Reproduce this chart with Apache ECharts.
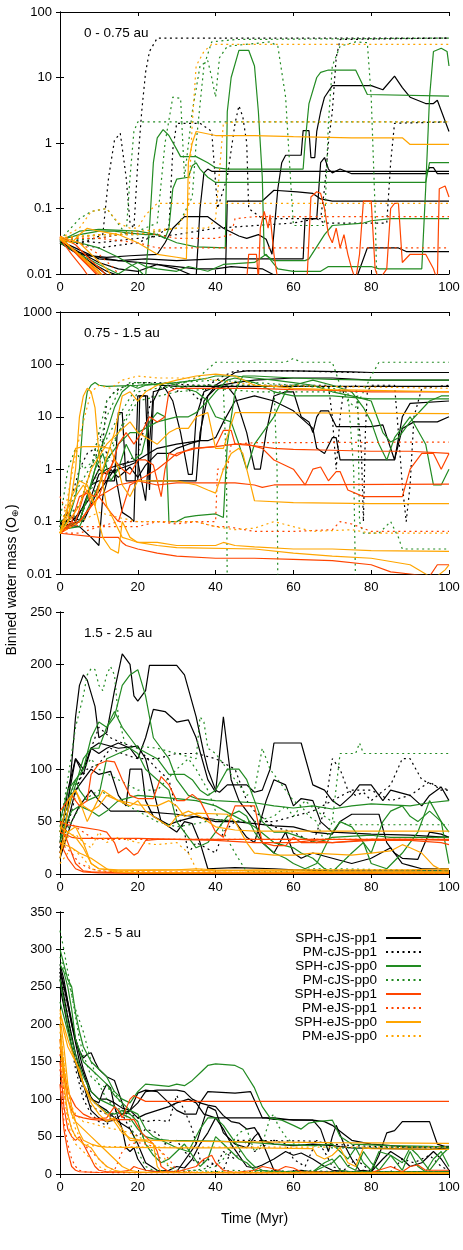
<!DOCTYPE html>
<html><head><meta charset="utf-8">
<script src="https://cdn.jsdelivr.net/npm/echarts@6/dist/echarts.min.js"></script>
<style>html,body{margin:0;padding:0;background:#fff}#c{width:463px;height:1250px}</style>
</head><body><div id="c"></div><script>
const xTicks = [0, 20, 40, 60, 80, 100];
const panelLabels = ['0 - 0.75 au', '0.75 - 1.5 au', '1.5 - 2.5 au', '2.5 - 5 au'];
const seriesNames = ['SPH-cJS-pp1','PM-cJS-pp1','SPH-cJS-pp0','PM-cJS-pp0','SPH-eJS-pp1','PM-eJS-pp1','SPH-eJS-pp0','PM-eJS-pp0'];
const seriesColors = ['#000000','#000000','#228b22','#228b22','#ff4500','#ff4500','#ffa500','#ffa500'];
const seriesDotted = [false,true,false,true,false,true,false,true];

// ---------- Panel 1: 0 - 0.75 au (log) ----------
const p1_sph_cjs_pp1 = [
 [[0,0.033],[4,0.022],[8,0.019],[12,0.018],[18,0.019],[25,0.02],[27,0.03],[29,0.05],[32,0.075],[38,0.075],[42,0.05],[46,0.038],[48,0.035],[51,0.04],[53,0.034],[54.5,0.02],[56,0.2],[57,0.5],[58,0.65],[62,0.65],[62.5,1.55],[64,1.55],[64.5,0.6],[65.5,0.6],[66,1.5],[67,3],[68,5],[70,7.5],[80,7.5],[83,6.5],[86,10.5],[88,7],[90,5],[94,4],[96,4],[97,4.5],[100,1.5]],
 [[0,0.032],[5,0.02],[10,0.018],[15,0.016],[22,0.017],[30,0.016],[40,0.017],[50,0.017],[62.5,0.017],[63,0.07],[66,0.07],[67,0.5],[68,0.6],[69,0.4],[70,0.35],[72,0.4],[75,0.34],[94,0.34],[95,0.42],[96,0.42],[97,0.34],[100,0.34]],
 [[0,0.031],[6,0.02],[10,0.015],[15,0.012],[20,0.011],[25,0.014],[30,0.012],[35,0.009],[36,0.1],[37,0.35],[38,0.4],[39,0.37],[100,0.37]],
 [[0,0.03],[8,0.015],[12,0.011],[16,0.009],[30,0.008],[42.5,0.008],[43,0.13],[52,0.13],[55,0.19],[61,0.18],[65,0.17],[67,0.14],[70,0.13],[100,0.13]],
 [[0,0.03],[6,0.018],[10,0.012],[14,0.008],[76,0.008],[79,0.025],[87,0.025],[89,0.022],[100,0.022]],
 [[0,0.032],[10,0.017],[20,0.015],[30,0.013],[35,0.012],[40,0.012],[44,0.013],[52,0.012],[56,0.009]]
];
const p1_pm_cjs_pp1 = [
 [[0,0.033],[6,0.03],[11,0.04],[12.5,0.3],[14,1.1],[15.5,1.4],[17,0.3],[18,0.06],[19,0.05],[20,0.5],[21,3],[22,12],[23,25],[25,40],[100,40]],
 [[0,0.033],[10,0.025],[20,0.03],[25,0.04],[28,0.05],[29,0.8],[30,2],[36,2],[39,1.5],[40.5,0.1],[43,0.3],[45,2],[46,3.7],[47,2.5],[48,1],[48.5,0.1],[52,0.07],[62,0.07],[67,0.07],[68,0.2],[69,1],[70,3],[71,20],[72,38],[100,40]],
 [[0,0.034],[10,0.03],[20,0.035],[30,0.04],[40,0.05],[60,0.06],[66,0.07],[68,0.06],[84,0.06],[85,0.5],[86,2],[100,2.1]]
];
const p1_sph_cjs_pp0 = [
 [[0,0.032],[5,0.03],[10,0.025],[15,0.018],[20,0.012],[22,0.009],[23,0.05],[24,0.5],[25,1.2],[26.5,1.6],[28,1.3],[30,0.8],[31,0.62],[35,0.62],[38,0.5],[40,0.42],[43,0.4],[62.5,0.4],[63,1],[64,4],[66,10],[67,12],[69,13],[76,13],[79,5.5],[100,5.2]],
 [[0,0.033],[5,0.04],[10,0.045],[14,0.045],[18,0.042],[22,0.04],[25,0.04],[27,0.035],[28,0.05],[29,0.2],[30,0.28],[33,0.3],[34,0.45],[35,0.5],[36,0.4],[38,0.3],[40,0.25],[94,0.25],[95,0.5],[97,0.5],[100,0.5]],
 [[0,0.032],[5,0.045],[10,0.048],[20,0.045],[25,0.04],[30,0.03],[35,0.026],[42.5,0.025],[43,3],[44,10],[46,26],[48.5,26],[50,15],[51,3],[52,0.3],[52.5,0.02],[55,0.016],[63,0.016],[64,0.017],[68,0.04],[70,0.055],[78,0.06],[80,0.065],[85,0.07],[100,0.07]],
 [[0,0.03],[5,0.02],[10,0.014],[15,0.01],[18,0.013],[20,0.015],[22,0.013],[25,0.012],[30,0.011],[33,0.013],[38,0.011],[42,0.014],[50,0.015],[53,0.02],[56,0.012],[60,0.011],[67,0.011],[69,0.013],[80,0.013],[82,0.012],[93,0.012],[94,0.2],[95,5],[96,25],[98,28],[99.5,25],[100,15]]
];
const p1_pm_cjs_pp0 = [
 [[0,0.033],[5,0.07],[8,0.09],[12,0.1],[14,0.07],[17,0.04],[18,0.3],[19,1.5],[20,2.1],[100,2.1]],
 [[0,0.032],[10,0.035],[20,0.045],[25,0.06],[27,1],[29,5],[31,4.8],[32,0.3],[34,3],[36,15],[38,18],[39,10],[40,5],[41,20],[43,30],[50,33],[54,35],[56,30],[58,5],[59,0.5],[60,0.055],[68,0.055],[69,2],[70,15],[72,30],[76,35],[79,34],[80,5],[81,0.1],[81.5,0.005]],
 [[0,0.034],[10,0.04],[20,0.04],[30,0.05],[34,0.15],[35,1],[37,15],[39,35],[45,38],[100,40]]
];
const p1_sph_ejs_pp1 = [
 [[0,0.035],[3,0.02],[6,0.012],[8,0.008],[48,0.008],[48.5,0.02],[50.5,0.02],[51,0.008],[51.5,0.05],[52.5,0.09],[53.5,0.05],[54,0.08],[55,0.02],[56,0.008],[63.5,0.008],[64.5,0.15],[66,0.18],[67,0.17],[68,0.1],[69,0.04],[70,0.03],[71,0.05],[72,0.025],[73,0.04],[74,0.02],[75,0.012],[76,0.008],[77,0.02],[78,0.13],[80,0.13],[81,0.012],[82,0.008],[84,0.012],[85,0.1],[86,0.12],[87,0.12],[88,0.015],[90,0.02],[94,0.02],[96,0.012],[97,0.008],[97.5,0.2],[99,0.22],[100,0.15]],
 [[0,0.037],[3,0.025],[6,0.016],[9,0.011],[11,0.008]],
 [[0,0.036],[4,0.022],[7,0.015],[10,0.011],[12,0.008]],
 [[0,0.034],[2,0.028],[5,0.018],[8,0.012],[10,0.009]],
 [[0,0.038],[4,0.028],[8,0.016],[11,0.011],[13,0.008]]
];
const p1_pm_ejs_pp1 = [
 [[0,0.036],[5,0.035],[10,0.035],[15,0.04],[20,0.042],[25,0.04],[30,0.035],[40,0.035],[44,0.04],[45,0.07],[50,0.075],[60,0.075],[100,0.075]],
 [[0,0.035],[10,0.035],[20,0.03],[25,0.025],[100,0.025]],
 [[0,0.037],[5,0.03],[10,0.02],[14,0.012],[16,0.008]]
];
const p1_sph_ejs_pp0 = [
 [[0,0.035],[3,0.03],[5,0.04],[7,0.05],[10,0.045],[15,0.04],[20,0.03],[25,0.02],[30,0.018],[32.5,0.017],[33,0.5],[34,1],[35,1.5],[40,1.3],[50,1.3],[60,1.25],[75,1.2],[88,1.2],[90,0.95],[100,0.95]],
 [[0,0.036],[4,0.022],[8,0.013],[11,0.009]],
 [[0,0.034],[3,0.025],[7,0.016],[10,0.011],[12,0.008]],
 [[0,0.037],[5,0.03],[8,0.02],[12,0.012],[14,0.008]]
];
const p1_pm_ejs_pp0 = [
 [[0,0.035],[5,0.05],[8,0.09],[12,0.1],[15,0.06],[18,0.05],[20,0.05],[22,0.08],[25,0.12],[100,0.12]],
 [[0,0.036],[10,0.04],[20,0.04],[30,0.05],[33,0.1],[34,2],[35,15],[37,25],[39,32],[100,32]],
 [[0,0.034],[20,0.045],[30,0.05],[38,0.05],[40,0.07],[42,2],[45,2.1],[100,2.1]]
];

// ---------- Panel 2: 0.75 - 1.5 au (log) ----------
const p2_sph_cjs_pp1 = [
 [[0,0.08],[2,0.15],[4,0.1],[6,0.2],[8,0.5],[10,0.6],[14,0.6],[15,12],[16,12],[17,0.6],[20,0.6],[20.5,25],[22.5,25],[23,0.6],[30,0.6],[35,0.6],[36,5],[38,25],[40,35],[43,38],[50,38],[100,38]],
 [[0,0.1],[3,0.1],[5,0.15],[8,0.3],[10,0.8],[12,1],[15,1.2],[20,1.5],[25,2.5],[30,3],[36,3.5],[37,20],[40,40],[45,70],[48,75],[60,75],[75,72],[80,70],[100,70]],
 [[0,0.08],[5,0.1],[8,0.5],[10,1],[12,0.8],[15,1],[18,1.2],[20,1.4],[22,0.25],[23,3],[24,30],[27,35],[29,20],[31,5],[33,0.8],[34,0.8],[35,10],[37,30],[40,38],[43,38],[45,25],[48,5],[50,1],[51.5,1],[53,5],[55,25],[58,30],[60,30],[62,10],[64,8],[65,5],[66,10],[67,13],[69,13],[71,6.5],[80,6.5],[83,7],[86,1.5],[88,6],[91,8],[97,8],[100,10]],
 [[0,0.09],[5,0.08],[8,0.05],[10,0.035],[11,0.3],[13,1],[15,0.7],[18,1.1],[20,0.7],[22,1.2],[25,2],[28,2],[30,2.5],[33,3],[36,3.5],[38,3.5],[40,4],[42,8],[45,20],[50,25],[55,20],[60,13],[65,6],[66,2.5],[68,2],[70,4],[71,4],[72,1.5],[86,1.5],[88,10],[90,18],[100,20]],
 [[0,0.09],[3,0.12],[6,0.1],[9,0.3],[12,0.6],[14,1],[16,0.15],[18,0.12],[19,0.1],[20,25],[22,25],[23,0.4],[24,20],[26,40],[30,38],[40,38],[45,45],[50,50],[60,55],[70,55],[80,50],[100,50]]
];
const p2_pm_cjs_pp1 = [
 [[0,0.08],[3,0.3],[5,1],[7,2],[9,2.5],[10,1],[11,3],[12,20],[14,30],[17,40],[20,45],[25,45],[30,42],[35,40],[50,40],[69,40],[70,10],[71,1],[72,10],[73,35],[76,40],[77.5,2],[78,0.1],[78.5,5],[79,30],[80,40],[86,40],[87,5],[88,0.5],[89,0.1],[90,0.5],[91,10],[93,35],[100,40]],
 [[0,0.1],[5,0.2],[8,1],[10,5],[12,2],[15,1],[20,2],[24,30],[28,40],[30,30],[32,40],[36,20],[38,40],[42,60],[45,75],[60,75],[70,72],[75,70],[100,70]]
];
const p2_sph_cjs_pp0 = [
 [[0,0.07],[2,0.1],[4,0.3],[5,1],[6,10],[7,30],[8,40],[9,45],[10,40],[12,38],[20,40],[25,42],[30,45],[35,50],[38,55],[40,60],[45,60],[50,55],[55,50],[60,45],[65,40],[70,30],[75,25],[80,20],[83,5],[85,3.3],[87,4],[90,8],[95,20],[98,25],[100,25]],
 [[0,0.07],[3,0.08],[5,0.1],[7,0.3],[9,1],[11,2],[13,0.6],[15,1],[17,3],[19,1.5],[21,2],[23,8],[25,12],[27,10],[28,0.1],[30,0.1],[32,0.12],[35,0.13],[40,0.14],[42,0.12],[43,3],[45,30],[47,60],[50,60],[60,55],[70,52],[80,50],[100,50]],
 [[0,0.07],[5,0.1],[8,0.5],[10,2],[12,5],[14,15],[16,30],[18,40],[20,35],[22,40],[25,42],[28,45],[32,35],[35,30],[38,20],[40,10],[44,8],[46,3],[48,1],[50,3],[55,10],[58,30],[60,40],[65,50],[70,40],[75,30],[78,15],[80,8],[82,3],[84,1.5],[86,4],[90,10],[94,3],[96,0.5],[98,0.5],[100,1]],
 [[0,0.07],[5,0.08],[10,0.5],[12,1.5],[15,3],[18,5],[20,5],[25,8],[30,10],[33,10],[35,12],[38,20],[40,30],[43,50],[45,55],[50,45],[55,30],[60,25],[70,25],[80,22],[100,22]]
];
const p2_pm_cjs_pp0 = [
 [[0,0.1],[2,1],[4,2.5],[6,1],[9,1.5],[12,10],[15,30],[18,45],[22,45],[28,40],[32,45],[36,60],[40,110],[50,110],[58,110],[60,130],[62,110],[70,110],[72,40],[74,20],[76,15],[78,30],[80,60],[82,110],[100,110]],
 [[0,0.1],[5,0.2],[8,1],[10,5],[12,20],[15,35],[20,45],[25,40],[30,35],[35,40],[40,40],[42,35],[42.8,1],[43,0.005]],
 [[0,0.08],[5,0.15],[10,0.5],[15,5],[20,30],[25,35],[30,38],[40,40],[55,40],[55.8,1],[56,0.005]],
 [[0,0.08],[5,0.5],[10,2],[15,10],[20,40],[30,45],[40,50],[50,45],[60,40],[70,35],[74,30],[75.5,1],[76,0.005]],
 [[0,0.08],[5,0.1],[10,1],[15,5],[20,20],[30,30],[40,35],[50,30],[70,30],[76.5,30],[77,0.1],[78,0.06],[82,0.06],[85,0.1],[87,0.05],[88,0.03],[100,0.03]]
];
const p2_sph_ejs_pp1 = [
 [[0,0.06],[2,0.08],[4,0.1],[6,0.3],[7,0.4],[8,0.2],[10,0.3],[12,0.8],[14,1.5],[16,1],[18,0.8],[20,1.5],[22,1.5],[24,1.2],[26,0.3],[27,1],[28,2],[30,1.8],[32,2.2],[34,2.5],[40,2.7],[45,3],[50,2.8],[55,2.5],[60,2.4],[70,2.3],[80,2.2],[90,2.2],[100,2]],
 [[0,0.06],[3,0.1],[5,0.3],[7,0.35],[9,0.3],[11,0.8],[13,1],[15,3],[17,5],[19,3],[21,5],[23,10],[25,8],[27,10],[28,30],[30,35],[50,35],[60,33],[70,32],[80,30],[100,30]],
 [[0,0.06],[5,0.1],[8,0.2],[10,0.3],[13,0.15],[15,0.1],[18,0.5],[20,0.6],[25,0.5],[30,0.55],[45,0.55],[50,0.5],[52,0.45],[55,0.5],[100,0.52]],
 [[0,0.06],[10,0.05],[15,0.05],[16,0.04],[17,0.035],[20,0.03],[25,0.025],[30,0.022],[40,0.02],[50,0.02],[60,0.019],[70,0.018],[80,0.015],[85,0.011],[90,0.01],[95,0.009],[97,0.015],[100,0.015]],
 [[0,0.06],[5,0.1],[10,0.3],[15,0.5],[20,0.6],[25,1],[28,1.5],[30,2],[35,2.5],[40,2.7],[42,5.5],[44,5.5],[45,3],[48,3],[52,2.5],[55,1.5],[60,1],[63,0.5],[65,1],[67,1.1],[69,0.6],[71,0.9],[72,0.9],[74,0.4],[78,0.3],[88,0.3],[90,1],[93,2],[96,2],[98,1],[100,2]]
];
const p2_pm_ejs_pp1 = [
 [[0,0.3],[1,0.2],[3,0.1],[5,0.08],[10,0.08],[15,0.1],[40,0.1],[40.5,1],[43,1],[44,3],[50,3.2],[100,3.3]],
 [[0,0.06],[5,0.06],[10,0.08],[20,0.08],[25,0.1],[30,0.09],[35,0.1],[40,0.08],[43,0.08],[50,0.065],[60,0.065],[70,0.07],[72,0.1],[75,0.09],[80,0.065],[100,0.065]]
];
const p2_sph_ejs_pp0 = [
 [[0,0.06],[2,0.1],[4,1],[5,10],[6,25],[7,35],[8,30],[9,15],[10,2],[11,0.5],[12,0.2],[14,0.1],[16,0.05],[18,0.045],[20,0.04],[25,0.04],[30,0.035],[40,0.035],[42,0.04],[45,0.035],[50,0.033],[60,0.03],[70,0.03],[80,0.028],[100,0.027]],
 [[0,0.06],[2,0.2],[3,1],[4,2.5],[6,2.7],[10,2.7],[13,2.5],[15,1],[16,0.5],[18,0.3],[20,0.6],[30,0.6],[35,0.5],[38,0.4],[40,0.35],[42,1],[44,2],[46,2.5],[47,2],[48,1],[49,0.5],[50,0.25],[60,0.23],[80,0.22],[100,0.22]],
 [[0,0.06],[3,0.3],[5,0.6],[7,0.5],[9,0.2],[11,0.05],[13,0.03],[15,0.025],[16,0.1],[18,0.05],[20,0.04],[25,0.035],[30,0.032],[50,0.03],[60,0.025],[70,0.022],[80,0.02],[90,0.015],[94,0.01],[96,0.008],[99,0.012],[100,0.015]],
 [[0,0.06],[4,0.3],[6,0.5],[9,0.2],[11,1],[14,5],[16,25],[18,30],[20,20],[22,30],[25,40],[30,50],[35,60],[40,65],[45,60],[50,40],[55,38],[60,35],[70,33],[80,32],[100,30]],
 [[0,0.06],[5,0.2],[8,1],[12,3],[15,5],[18,8],[20,5],[25,3],[28,5],[30,6],[33,6],[35,10],[38,12],[40,2.5],[42,2.5],[45,12],[50,12],[100,11.5]]
];
const p2_pm_ejs_pp0 = [
 [[0,0.06],[2,0.3],[4,2],[6,8],[8,30],[10,40],[13,35],[16,50],[20,60],[25,55],[35,55],[40,50],[50,40],[100,35]],
 [[0,0.06],[5,0.1],[10,0.15],[15,0.12],[20,0.1],[35,0.1],[40,0.08],[45,0.07],[50,0.075],[55,0.1],[60,0.08],[65,0.065],[75,0.07],[80,0.06],[100,0.06]]
];

// ---------- Panel 3: 1.5 - 2.5 au (linear) ----------
const p3_sph_cjs_pp1 = [
 [[0,20],[2,60],[4,150],[5,180],[6,190],[7,185],[9,160],[10,130],[12,135],[14,175],[16,210],[17,205],[18,200],[19,170],[20,165],[22,175],[23,199],[30,199],[32,190],[35,150],[37,115],[38,100],[40,80],[41,78],[43,85],[48,85],[50,78],[52,80],[54,100],[55,125],[62,125],[65,85],[68,80],[70,70],[72,65],[75,75],[77,85],[80,85],[83,70],[85,80],[90,75],[93,65],[95,75],[98,83],[100,70]],
 [[0,30],[2,80],[4,110],[6,100],[8,120],[10,115],[12,120],[15,125],[18,120],[20,110],[22,130],[24,157],[27,155],[30,145],[33,147],[35,130],[38,90],[40,78],[42,150],[44,90],[46,70],[50,50],[52,30],[55,20],[58,40],[60,20],[62,15],[65,20],[70,15],[75,10],[80,15],[85,25],[88,10],[90,8],[93,5],[100,5]],
 [[0,40],[2,70],[4,110],[6,95],[8,120],[10,125],[15,120],[20,122],[22,110],[24,80],[26,50],[28,45],[30,40],[32,50],[34,48],[36,30],[38,5],[45,6],[55,5],[60,4],[70,3],[100,3]],
 [[0,25],[2,50],[4,80],[6,90],[8,100],[10,95],[13,98],[15,75],[17,65],[18,100],[21,100],[22,70],[24,55],[28,47],[30,50],[35,55],[40,50],[45,50],[50,48],[55,46],[60,45],[65,40],[70,38],[72,50],[75,57],[82,57],[84,30],[86,20],[88,15],[92,14],[95,40],[98,38],[100,35]],
 [[0,15],[3,50],[5,65],[8,80],[10,70],[13,60],[20,60],[30,57],[40,52],[45,50],[48,35],[50,30],[53,70],[55,90],[58,85],[60,65],[62,72],[65,70],[67,50],[70,40],[80,38],[90,37],[100,35]]
];
const p3_pm_cjs_pp1 = [
 [[0,20],[3,60],[5,90],[7,100],[10,105],[13,120],[16,115],[20,110],[25,110],[30,115],[35,115],[40,110],[45,100],[48,70],[50,60],[55,45],[60,40],[65,30],[68,60],[70,110],[72,100],[74,80],[76,75],[78,78],[80,70],[85,85],[88,110],[90,110],[93,90],[96,85],[100,80]],
 [[0,25],[2,70],[5,90],[8,120],[10,140],[13,130],[16,125],[20,120],[25,100],[28,90],[30,60],[32,40],[33,20],[35,30],[40,20],[42,40],[45,50],[55,50],[60,55],[65,60],[70,70],[75,80],[80,80],[85,70],[90,75],[95,88],[98,80],[100,80]]
];
const p3_sph_cjs_pp0 = [
 [[0,40],[2,70],[4,90],[6,100],[8,130],[10,145],[12,140],[14,150],[16,180],[18,190],[20,195],[22,170],[24,130],[26,120],[28,110],[30,90],[33,75],[35,72],[40,70],[50,68],[55,65],[60,63],[65,65],[70,62],[75,65],[80,67],[90,65],[95,68],[100,70]],
 [[0,30],[2,60],[4,85],[6,110],[8,120],[10,120],[12,140],[14,155],[16,140],[18,130],[20,120],[25,110],[28,95],[32,95],[34,90],[36,80],[38,75],[40,80],[43,100],[46,100],[48,90],[50,70],[52,50],[55,40],[58,40],[62,35],[66,30],[70,35],[80,37],[85,35],[100,35]],
 [[0,50],[2,80],[4,90],[5,80],[7,70],[10,75],[12,110],[15,115],[18,120],[20,115],[22,100],[25,90],[28,80],[30,50],[32,40],[35,25],[38,30],[40,40],[43,55],[46,60],[48,55],[50,40],[52,30],[55,20],[58,15],[60,10],[63,5],[66,10],[70,40],[72,50],[75,45],[78,30],[80,20],[83,50],[85,60],[88,65],[90,55],[92,50],[95,60],[98,50],[100,40]],
 [[0,35],[3,60],[5,65],[8,60],[10,55],[12,60],[15,70],[20,75],[30,72],[35,70],[40,65],[45,55],[50,45],[55,30],[60,25],[62,20],[65,15],[68,5],[70,2],[75,20],[78,30],[80,10],[84,5],[88,20],[92,40],[95,70],[98,50],[100,10]]
];
const p3_pm_cjs_pp0 = [
 [[0,45],[2,90],[4,140],[6,170],[7,190],[8,196],[9,195],[10,180],[11,175],[12,190],[13,198],[14,190],[15,150],[17,120],[20,122],[25,120],[30,115],[35,110],[36,150],[37,145],[38,120],[40,115],[42,105],[45,90],[48,75],[50,80],[52,120],[54,100],[56,90],[58,80],[60,70],[62,65],[64,55],[66,50],[68,30],[70,50],[72,115],[76,115],[77,125],[78,115],[100,115]],
 [[0,40],[3,80],[6,100],[8,110],[10,100],[15,90],[20,80],[25,80],[30,100],[33,110],[35,100],[38,80],[40,60],[42,40],[45,20],[48,2],[55,2],[60,3],[65,5],[70,5],[100,3]],
 [[0,30],[3,50],[6,70],[10,80],[15,70],[20,60],[25,50],[30,45],[35,48],[40,52],[50,50],[55,55],[58,65],[60,55],[63,70],[66,60],[70,50],[75,47],[100,47]]
];
const p3_sph_ejs_pp1 = [
 [[0,60],[2,70],[3,75],[5,65],[7,70],[8,95],[10,105],[12,108],[14,107],[16,90],[18,75],[20,72],[24,72],[26,93],[28,85],[30,70],[32,70],[34,76],[36,70],[38,55],[40,40],[42,35],[45,65],[50,65],[52,30],[55,27],[58,27],[60,35],[62,30],[70,30],[80,32],[90,32],[98,30],[100,28]],
 [[0,50],[2,47],[5,45],[10,42],[12,40],[14,30],[15,20],[17,25],[19,18],[20,20],[22,32],[25,33],[90,33],[100,32]],
 [[0,40],[3,35],[5,34],[20,34],[30,33],[40,32],[50,30],[60,30],[65,32],[70,30],[80,33],[100,33]],
 [[0,30],[2,15],[4,5],[6,2],[10,1],[20,0.5],[100,0.5]],
 [[0,50],[2,30],[4,10],[6,3],[8,2],[20,1],[100,1]]
];
const p3_pm_ejs_pp1 = [
 [[0,20],[2,50],[4,45],[6,40],[8,35],[10,33],[100,33]],
 [[0,30],[3,20],[5,10],[8,5],[10,3],[15,2],[100,1]]
];
const p3_sph_ejs_pp0 = [
 [[0,15],[2,60],[3,75],[4,80],[5,70],[6,60],[7,50],[9,65],[11,80],[13,75],[15,70],[18,65],[20,70],[22,60],[24,55],[26,50],[28,45],[30,55],[33,60],[36,55],[38,50],[40,45],[45,42],[50,41],[100,41]],
 [[0,40],[2,70],[4,80],[6,65],[8,60],[10,65],[12,75],[15,70],[18,68],[20,66],[25,65],[28,70],[30,65],[32,55],[35,58],[43,57],[45,50],[48,30],[50,20],[55,18],[60,18],[65,20],[70,19],[75,18],[80,20],[85,22],[88,28],[90,25],[93,20],[96,8],[98,4],[100,4]],
 [[0,20],[2,40],[4,35],[6,25],[8,10],[10,5],[15,3],[30,4],[35,5],[40,4],[50,3],[60,3],[70,2],[100,2]],
 [[0,45],[2,40],[4,45],[6,30],[8,10],[10,5],[15,4],[30,4],[40,3],[50,4],[90,4],[100,5]],
 [[0,30],[3,25],[5,20],[8,15],[10,10],[12,5],[14,2],[20,1],[100,1]]
];
const p3_pm_ejs_pp0 = [
 [[0,20],[2,35],[4,38],[6,30],[8,25],[10,40],[12,30],[15,35],[20,30],[25,28],[30,30],[33,20],[35,5],[40,3],[100,3]],
 [[0,10],[3,25],[6,15],[8,5],[10,3],[20,2],[100,1]]
];

// ---------- Panel 4: 2.5 - 5 au (linear) ----------
const p4_sph_cjs_pp1 = [
 [[0,280],[1,260],[2,230],[3,200],[4,180],[5,165],[6,155],[7,160],[8,162],[9,150],[10,140],[12,130],[14,125],[16,95],[17,80],[18,85],[20,95],[22,110],[25,112],[30,112],[32,110],[34,100],[36,95],[38,92],[40,90],[42,78],[44,70],[46,68],[48,60],[50,62],[52,45],[55,40],[60,38],[65,40],[70,38],[75,35],[85,34],[95,33],[100,35]],
 [[0,270],[1,250],[3,200],[5,150],[7,120],[8,100],[10,95],[11,110],[12,120],[13,115],[14,90],[16,60],[17,35],[18,30],[19,35],[20,20],[22,5],[25,3],[28,5],[30,10],[32,8],[34,20],[36,40],[38,55],[40,75],[42,60],[44,40],[46,25],[48,10],[50,8],[52,12],[55,20],[58,30],[60,25],[62,28],[65,20],[68,10],[70,5],[75,3],[78,5],[80,3],[83,20],[85,30],[88,20],[90,10],[93,15],[96,30],[98,20],[100,5]],
 [[0,265],[2,210],[4,160],[6,120],[8,85],[10,75],[12,70],[14,72],[16,80],[18,85],[20,75],[22,80],[25,85],[28,90],[30,95],[33,100],[35,95],[37,80],[40,75],[53,75],[55,73],[65,72],[67,60],[69,30],[70,50],[71,65],[73,40],[75,20],[77,5],[80,3],[82,25],[84,55],[86,58],[88,70],[95,70],[97,40],[100,35]],
 [[0,275],[2,230],[4,180],[6,140],[8,110],[10,100],[12,100],[14,95],[16,88],[18,85],[20,108],[22,112],[25,110],[28,95],[30,85],[32,80],[35,80],[36,95],[38,110],[45,108],[49,110],[52,75],[55,75],[60,72],[65,72],[68,70],[70,65],[75,45],[80,40],[85,38],[90,36],[100,37]],
 [[0,250],[3,170],[5,130],[7,110],[9,95],[12,85],[15,70],[18,60],[20,40],[22,15],[25,5],[30,3],[35,40],[38,90],[40,85],[42,55],[45,40],[48,35],[50,50],[51,55],[53,30],[55,5],[58,3],[62,5],[65,3],[100,3]]
];
const p4_pm_cjs_pp1 = [
 [[0,270],[2,210],[4,150],[6,110],[8,90],[10,85],[12,80],[14,75],[16,85],[18,80],[20,75],[22,70],[25,72],[28,70],[30,105],[32,85],[34,60],[36,20],[38,10],[40,15],[42,5],[45,45],[65,44],[70,40],[75,38],[80,37],[85,36],[100,36]],
 [[0,260],[2,200],[4,140],[6,100],[8,80],[10,70],[12,65],[14,85],[16,80],[18,60],[20,50],[22,60],[25,55],[27,40],[30,45],[32,30],[35,15],[38,20],[40,10],[42,30],[45,20],[48,45],[50,30],[55,45],[58,40],[60,20],[63,10],[66,45],[68,30],[70,10],[73,5],[76,20],[80,3],[85,3],[88,20],[91,15],[95,25],[98,10],[100,5]]
];
const p4_sph_cjs_pp0 = [
 [[0,300],[1,280],[2,260],[3,250],[4,215],[5,190],[6,170],[7,160],[8,150],[10,140],[12,130],[14,110],[16,100],[18,95],[20,110],[22,120],[28,117],[30,120],[32,118],[34,125],[36,135],[38,145],[40,147],[45,145],[47,140],[50,115],[52,90],[54,75],[57,72],[60,65],[62,60],[64,68],[66,70],[70,72],[72,50],[75,40],[85,38],[95,37],[100,36]],
 [[0,280],[1,270],[2,250],[3,220],[4,180],[6,150],[8,140],[10,130],[12,120],[14,105],[16,95],[18,85],[20,80],[22,60],[24,50],[26,45],[28,40],[30,35],[33,30],[36,60],[38,75],[40,75],[42,65],[44,50],[46,35],[48,20],[50,10],[52,5],[55,3],[65,3],[70,15],[72,25],[74,10],[76,5],[78,30],[80,15],[82,5],[85,25],[88,5],[90,30],[92,10],[94,3],[96,20],[98,30],[100,10]],
 [[0,260],[2,200],[4,160],[6,130],[8,110],[10,100],[12,95],[14,90],[16,80],[18,75],[20,60],[22,50],[24,47],[28,45],[40,44],[50,42],[55,40],[65,38],[70,40],[72,30],[74,20],[76,35],[78,15],[80,5],[82,30],[85,25],[88,15],[90,35],[92,25],[95,5],[98,25],[100,35]],
 [[0,230],[2,190],[4,150],[6,120],[8,100],[10,90],[12,82],[14,80],[16,85],[18,80],[20,70],[22,40],[24,25],[26,15],[28,20],[30,30],[32,40],[34,25],[36,10],[38,20],[40,50],[42,40],[44,30],[46,20],[48,15],[50,5],[55,3],[65,3],[68,15],[70,20],[72,5],[75,3],[100,3]]
];
const p4_pm_cjs_pp0 = [
 [[0,325],[1,300],[2,270],[3,240],[4,210],[5,180],[6,160],[7,145],[8,130],[10,120],[12,115],[14,110],[16,90],[18,80],[20,70],[22,40],[24,30],[26,20],[28,10],[30,5],[35,5],[40,10],[42,20],[44,40],[46,55],[48,60],[50,30],[52,40],[54,75],[55,80],[56,65],[58,50],[60,40],[65,38],[70,35],[80,35],[90,36],[95,34],[100,33]],
 [[0,290],[2,260],[4,220],[6,190],[8,150],[10,120],[12,100],[14,90],[16,85],[18,70],[20,30],[22,10],[24,5],[30,3],[35,5],[40,3],[45,5],[50,3],[55,5],[60,3],[65,5],[70,3],[100,3]]
];
const p4_sph_ejs_pp1 = [
 [[0,170],[1,140],[2,110],[3,100],[4,90],[5,85],[6,80],[8,75],[10,74],[12,75],[14,90],[15,85],[16,75],[18,100],[19,105],[20,102],[22,97],[100,97]],
 [[0,180],[1,130],[2,100],[3,85],[4,78],[6,75],[8,73],[10,72],[19,73],[21,55],[23,45],[24,40],[25,30],[26,10],[28,3],[30,2],[45,2],[50,5],[52,10],[54,8],[56,5],[58,10],[60,8],[62,3],[70,2],[80,2],[85,10],[88,3],[90,10],[92,12],[94,5],[100,5]],
 [[0,150],[1,90],[2,60],[3,50],[4,45],[5,50],[6,40],[7,30],[8,20],[9,10],[10,5],[12,3],[15,3],[18,5],[19,10],[20,8],[22,5],[25,3],[30,3],[35,10],[37,20],[39,25],[40,15],[42,5],[45,2],[100,2]],
 [[0,120],[1,60],[2,30],[3,10],[4,5],[5,3],[10,2],[100,1]]
];
const p4_pm_ejs_pp1 = [
 [[0,160],[1,110],[2,80],[3,60],[4,50],[5,45],[6,40],[8,30],[10,20],[12,10],[14,5],[16,30],[18,40],[20,42],[22,40],[25,35],[28,20],[30,5],[35,2],[100,2]],
 [[0,140],[1,70],[2,40],[3,20],[4,10],[5,5],[6,3],[10,2],[100,1]]
];
const p4_sph_ejs_pp0 = [
 [[0,220],[1,190],[2,170],[3,160],[4,150],[5,140],[6,120],[8,100],[10,90],[12,80],[14,70],[16,55],[18,48],[20,46],[24,45],[30,44],[50,43],[70,42],[100,41]],
 [[0,210],[1,170],[2,120],[3,90],[4,70],[5,55],[6,45],[8,40],[10,37],[12,36],[30,35],[50,35],[65,34],[66,25],[68,20],[70,25],[72,35],[74,15],[76,10],[78,35],[80,34],[100,33]],
 [[0,200],[1,140],[2,100],[3,80],[4,70],[6,60],[8,50],[10,40],[12,30],[14,20],[16,10],[18,5],[20,3],[25,2],[100,1]],
 [[0,180],[1,120],[2,80],[3,60],[4,50],[5,45],[6,40],[8,35],[10,20],[12,10],[14,5],[16,3],[20,2],[100,1]],
 [[0,215],[2,180],[4,150],[6,120],[8,95],[10,80],[12,70],[14,75],[16,60],[18,45],[22,44],[24,40],[25,10],[26,3],[30,2],[100,2]]
];
const p4_pm_ejs_pp0 = [
 [[0,190],[1,150],[2,110],[3,90],[4,80],[5,75],[6,70],[8,68],[10,65],[12,62],[14,60],[16,58],[18,55],[20,50],[22,45],[24,40],[26,30],[28,10],[30,3],[100,2]],
 [[0,170],[1,110],[2,70],[3,50],[4,40],[6,30],[8,20],[10,10],[12,5],[14,3],[20,2],[100,2]],
 [[0,200],[2,100],[4,60],[6,40],[8,38],[10,37],[20,36],[100,36]]
];

const panelRuns = [
 [p1_sph_cjs_pp1,p1_pm_cjs_pp1,p1_sph_cjs_pp0,p1_pm_cjs_pp0,p1_sph_ejs_pp1,p1_pm_ejs_pp1,p1_sph_ejs_pp0,p1_pm_ejs_pp0],
 [p2_sph_cjs_pp1,p2_pm_cjs_pp1,p2_sph_cjs_pp0,p2_pm_cjs_pp0,p2_sph_ejs_pp1,p2_pm_ejs_pp1,p2_sph_ejs_pp0,p2_pm_ejs_pp0],
 [p3_sph_cjs_pp1,p3_pm_cjs_pp1,p3_sph_cjs_pp0,p3_pm_cjs_pp0,p3_sph_ejs_pp1,p3_pm_ejs_pp1,p3_sph_ejs_pp0,p3_pm_ejs_pp0],
 [p4_sph_cjs_pp1,p4_pm_cjs_pp1,p4_sph_cjs_pp0,p4_pm_cjs_pp0,p4_sph_ejs_pp1,p4_pm_ejs_pp1,p4_sph_ejs_pp0,p4_pm_ejs_pp0]
];
const yScales = [
 {type:'log', min:0.01, max:100},
 {type:'log', min:0.01, max:1000},
 {type:'value', min:0, max:250, interval:50},
 {type:'value', min:0, max:350, interval:50}
];

const FONT = "'Liberation Sans', Arial, sans-serif";
const panelTops = [12, 312, 612, 912];
const PH = 262;
const grids = [], xAxes = [], yAxesOpt = [], series = [], graphics = [];
const logFmt = v => String(+(+v).toPrecision(3));

panelTops.forEach((top, g) => {
  grids.push({left: 60, width: 389, top: top, height: PH});
  const axBase = {axisLine:{show:true,lineStyle:{color:'#000',width:1}}, axisTick:{show:true,inside:true,length:4,lineStyle:{color:'#000'}}, splitLine:{show:false}};
  xAxes.push(Object.assign({gridIndex:g, type:'value', min:0, max:100, interval:20, position:'bottom',
    axisLabel:{color:'#000', fontSize:13, fontFamily:FONT, margin:7}}, axBase));
  xAxes.push(Object.assign({gridIndex:g, type:'value', min:0, max:100, interval:20, position:'top',
    axisLabel:{show:false}}, axBase));
  const ys = yScales[g];
  const yl = Object.assign({gridIndex:g, position:'left',
    axisLabel:{color:'#000', fontSize:13, fontFamily:FONT, margin:8, formatter: ys.type==='log'? logFmt : undefined}}, ys, axBase);
  const yr = Object.assign({gridIndex:g, position:'right', axisLabel:{show:false}}, ys, axBase);
  yAxesOpt.push(yl, yr);
  panelRuns[g].forEach((runs, k) => {
    runs.forEach(run => {
      series.push({
        type:'line', name: seriesNames[k], xAxisIndex: 2*g, yAxisIndex: 2*g,
        data: run, showSymbol:false, symbol:'none', clip:true, silent:true,
        lineStyle:{color: seriesColors[k], width: 1.2, type: seriesDotted[k] ? [2,3.5] : 'solid'},
        itemStyle:{color: seriesColors[k]}
      });
    });
  });
  graphics.push({type:'text', x: 84, y: top + 21, style:{text: panelLabels[g], fill:'#000', fontSize:13.5, fontFamily:FONT, verticalAlign:'middle', align:'left'}});
});

graphics.push({type:'text', x: 254.5, y: 1219, style:{text:'Time (Myr)', fill:'#000', fontSize:14, fontFamily:FONT, align:'center', verticalAlign:'middle'}});
graphics.push({type:'text', x: 12, y: 580, rotation: Math.PI/2,
  style:{text:'Binned water mass (O{s|⊕})', fill:'#000', fontSize:14, fontFamily:FONT, align:'center', verticalAlign:'middle',
    rich:{s:{fontSize:9, fontFamily:FONT, fill:'#000', padding:[7,0,0,0]}}}});

const chart = echarts.init(document.getElementById('c'), null, {renderer:'canvas'});
chart.setOption({
  animation:false,
  backgroundColor:'#fff',
  grid: grids, xAxis: xAxes, yAxis: yAxesOpt, series: series,
  legend: {data: seriesNames, orient:'vertical', right: 41, top: 931, align:'right', itemWidth:35, itemHeight:14, itemGap:0, padding:0,
    selectedMode:false, itemStyle:{opacity:0, borderWidth:0}, textStyle:{color:'#000', fontSize:13.5, fontFamily:FONT, padding:[0,4,0,0]}},
  graphic: graphics
});
</script></body></html>
